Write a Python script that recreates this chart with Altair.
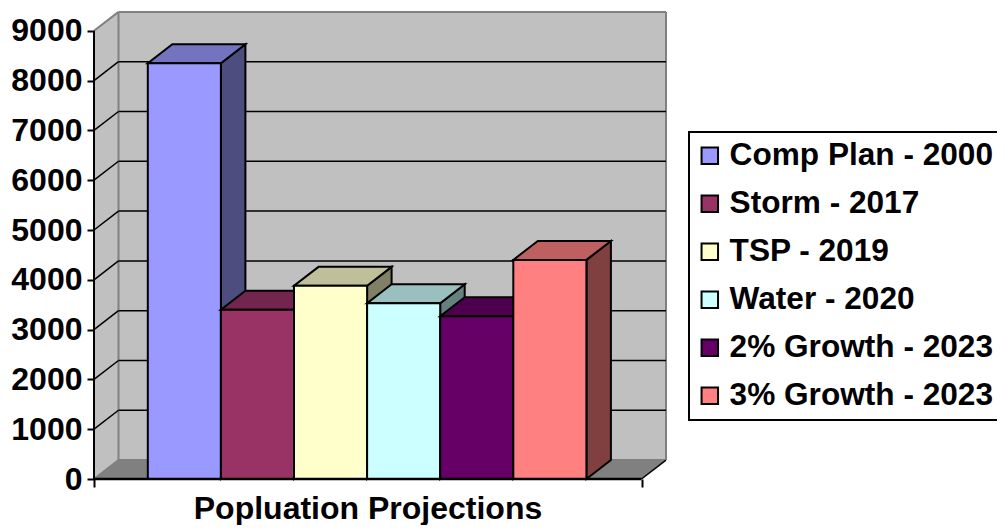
import altair as alt
import pandas as pd

series = ["Comp Plan - 2000", "Storm - 2017", "TSP - 2019", "Water - 2020",
          "2% Growth - 2023", "3% Growth - 2023"]
values = [8350, 3400, 3880, 3530, 3270, 4400]
front_colors = ["#9999FF", "#993366", "#FFFFCC", "#CCFFFF", "#660066", "#FF8080"]
top_colors = ["#7373BF", "#73264D", "#BFBF99", "#99BFBF", "#4D004D", "#BF6060"]
side_colors = ["#4D4D80", "#4D1A33", "#808066", "#668080", "#330033", "#804040"]
grid_values = [0, 1000, 2000, 3000, 4000, 5000, 6000, 7000, 8000, 9000]

FONT = "Liberation Sans"
PLOT_W, PLOT_H = 572, 468
X_MAX = PLOT_W / 73.1
Y_MAX = PLOT_H / 0.0498
DX = 24.5 / 73.1      # depth of the 3D view, in bar widths
DY = 380              # depth of the 3D view, in value units
FIRST_BAR = 0.736
FRONT_W = X_MAX - DX

xs = alt.Scale(domain=[0, X_MAX], nice=False, zero=False)
ys = alt.Scale(domain=[0, Y_MAX], nice=False, zero=False)
AX_X = alt.Axis(
    values=[0, FRONT_W], labels=False, grid=False, domain=False,
    tickSize=8, tickWidth=2, tickColor="black",
    title="Popluation Projections", titleFont=FONT, titleFontSize=32,
    titleFontWeight="bold", titleColor="black", titleX=273.5, titleY=39,
    titleBaseline="alphabetic", titleAnchor="middle")
AX_Y = alt.Axis(
    values=grid_values, format="d", grid=False, domain=False, title=None,
    tickSize=7, tickWidth=2, tickColor="black", labelPadding=5,
    labelFont=FONT, labelFontSize=32, labelFontWeight="bold", labelColor="black")
X = lambda f: alt.X(f, type="quantitative", scale=xs, axis=AX_X)
Y = lambda f: alt.Y(f, type="quantitative", scale=ys, axis=AX_Y)
color_enc = alt.Color(
    "series:N",
    scale=alt.Scale(domain=series, range=front_colors),
    legend=alt.Legend(
        title=None, orient="none", legendX=595, legendY=121, padding=8,
        fillColor="white", strokeColor="black", symbolType="square",
        symbolSize=272, symbolStrokeColor="black", symbolStrokeWidth=2,
        symbolOffset=-3,
        labelFont=FONT, labelFontSize=31.6, labelFontWeight="bold", labelColor="black",
        labelOffset=4, rowPadding=15, labelLimit=400, values=series,
    ),
)

# walls
wall_back = pd.DataFrame({"x": [DX], "x2": [X_MAX], "y": [DY], "y2": [9000 + DY]})
wall_left = pd.DataFrame({"x": [0, DX], "y": [0, DY], "y2": [9000, 9000 + DY]})
floor = pd.DataFrame({"y": [0, DY], "x": [0, DX], "x2": [FRONT_W, X_MAX]})

back = alt.Chart(wall_back).mark_rect(color="#C0C0C0").encode(
    x=X("x"), x2="x2", y=Y("y"), y2="y2")
left = alt.Chart(wall_left).mark_area(color="#C0C0C0").encode(x=X("x"), y=Y("y"), y2="y2")
flr = alt.Chart(floor).mark_area(color="#808080", orient="horizontal").encode(
    y=Y("y"), x=X("x"), x2="x2")

# grid and edge lines
black_rows, gray_rows = [], []
for v in grid_values[1:-1]:
    black_rows += [{"g": f"b{v}", "x": DX, "y": v + DY}, {"g": f"b{v}", "x": X_MAX, "y": v + DY},
                   {"g": f"l{v}", "x": 0, "y": v}, {"g": f"l{v}", "x": DX, "y": v + DY}]
black_rows += [{"g": "fr", "x": FRONT_W, "y": 0}, {"g": "fr", "x": X_MAX, "y": DY}]
gray_rows += [{"g": "top", "x": DX, "y": 9000 + DY}, {"g": "top", "x": X_MAX, "y": 9000 + DY},
              {"g": "dt", "x": 0, "y": 9000}, {"g": "dt", "x": DX, "y": 9000 + DY},
              {"g": "vl", "x": DX, "y": DY}, {"g": "vl", "x": DX + 1e-6, "y": 9000 + DY},
              {"g": "vr", "x": X_MAX - 1e-6, "y": DY}, {"g": "vr", "x": X_MAX, "y": 9000 + DY},
              {"g": "fb", "x": DX, "y": DY}, {"g": "fb", "x": X_MAX, "y": DY},
              {"g": "fl", "x": 0, "y": 0}, {"g": "fl", "x": DX, "y": DY}]
gray_lines = alt.Chart(pd.DataFrame(gray_rows)).mark_line(color="#808080", strokeWidth=2).encode(
    x=X("x"), y=Y("y"), detail="g:N")
black_lines = alt.Chart(pd.DataFrame(black_rows)).mark_line(color="black", strokeWidth=1.5).encode(
    x=X("x"), y=Y("y"), detail="g:N")

# axis lines
axis_y = alt.Chart(pd.DataFrame({"x": [0], "y": [0], "y2": [9000]})).mark_rule(
    color="black", strokeWidth=2
).encode(x=X("x"), y=Y("y"), y2="y2")
axis_x = alt.Chart(pd.DataFrame({"x": [0], "x2": [FRONT_W], "y": [0]})).mark_rule(
    color="black", strokeWidth=2.5
).encode(x=X("x"), x2="x2", y=Y("y"))

layers = [back, left, flr, gray_lines, black_lines]

# bars, back to front, left to right
for i, (name, v) in enumerate(zip(series, values)):
    x0, x1 = FIRST_BAR + i, FIRST_BAR + i + 1
    top = pd.DataFrame({"y": [v, v + DY], "x": [x0, x0 + DX], "x2": [x1, x1 + DX]})
    side = pd.DataFrame({"x": [x1, x1 + DX], "y": [0, DY], "y2": [v, v + DY]})
    front = pd.DataFrame({"x": [x0], "x2": [x1], "y": [0], "y2": [v], "series": [name]})
    layers.append(alt.Chart(side).mark_area(
        color=side_colors[i], stroke="black", strokeWidth=2
    ).encode(x=X("x"), y=Y("y"), y2="y2"))
    layers.append(alt.Chart(top).mark_area(
        color=top_colors[i], stroke="black", strokeWidth=2, orient="horizontal"
    ).encode(y=Y("y"), x=X("x"), x2="x2"))
    layers.append(alt.Chart(front).mark_rect(stroke="black", strokeWidth=2).encode(
        x=X("x"), x2="x2", y=Y("y"), y2="y2", color=color_enc))

layers += [axis_x, axis_y]

chart = alt.layer(*layers).properties(
    width=PLOT_W, height=PLOT_H,
    padding={"left": 86, "top": 3, "right": 331, "bottom": 46},
    autosize=alt.AutoSizeParams(type="none"),
    background="white",
).configure_view(stroke=None).configure_legend(strokeWidth=2)

chart.save("out.html", embed_options={"renderer": "svg", "actions": False})
